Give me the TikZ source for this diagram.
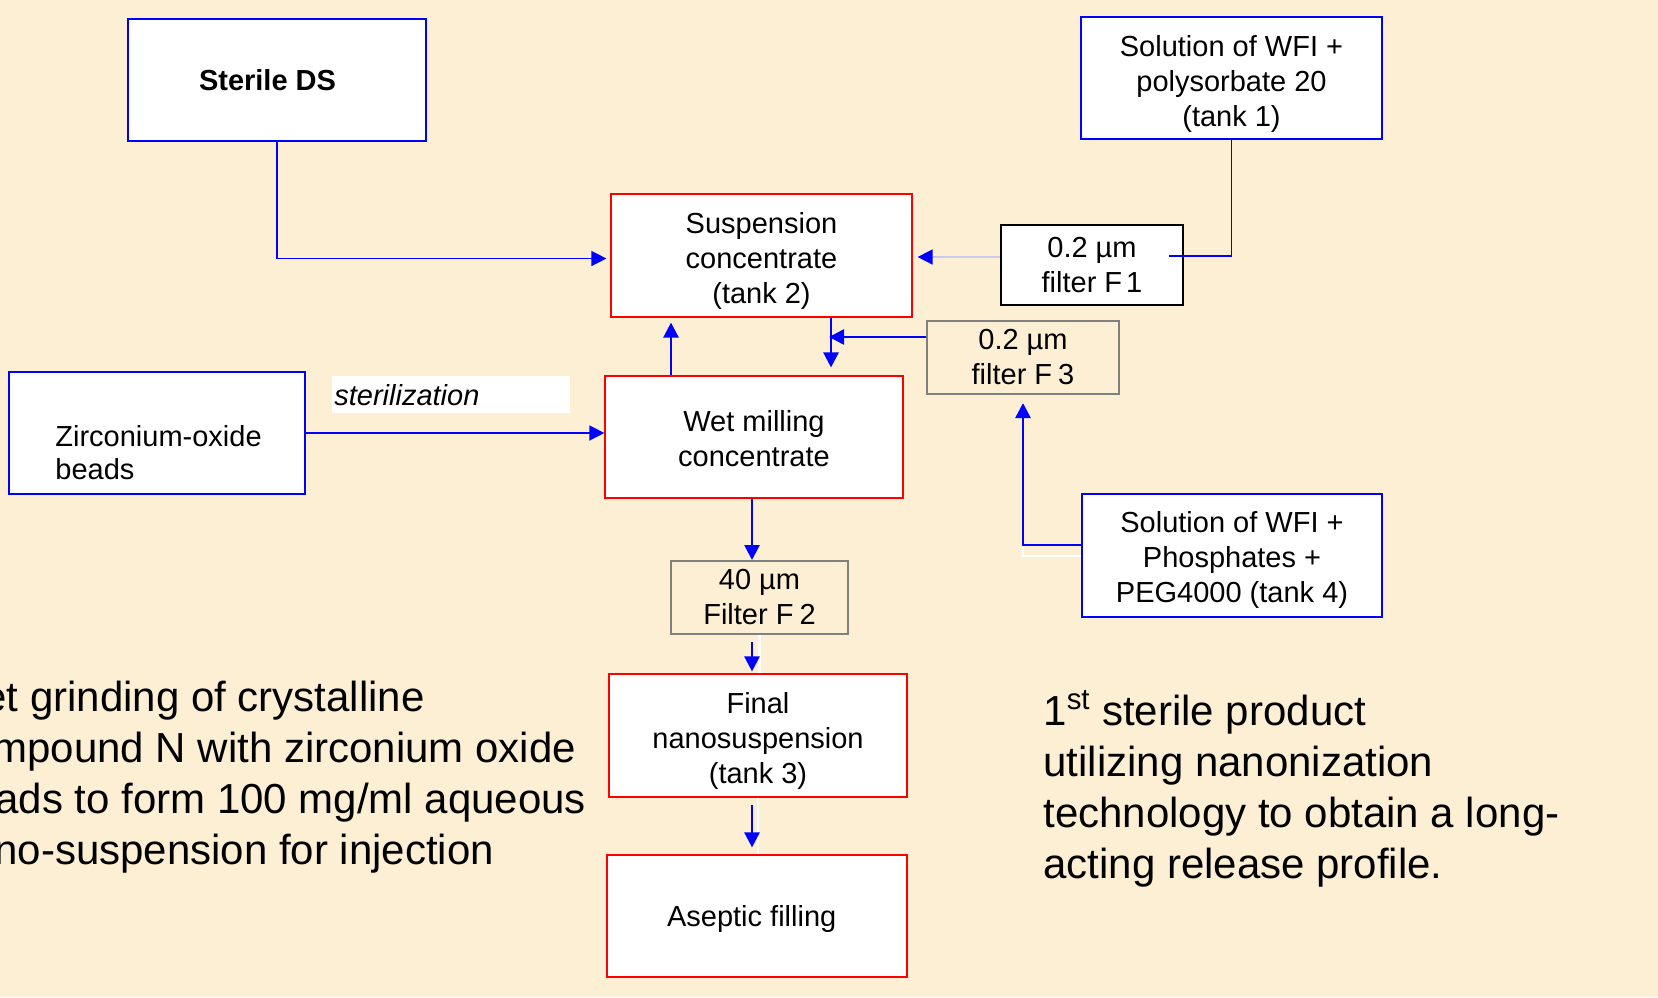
\documentclass[tikz,border=0pt]{standalone}
\usepackage{fontspec}
\setmainfont{Liberation Sans}
\usetikzlibrary{arrows.meta}
\definecolor{parch}{RGB}{252,239,212}
\definecolor{lightln}{RGB}{200,200,240}
\definecolor{fgray}{RGB}{128,128,128}
\newcommand{\dn}{\rule{0pt}{16pt}}
\begin{document}
\begin{tikzpicture}[x=0.5pt,y=-0.5pt,
  box/.style={draw, fill=white, line width=0.6pt, inner sep=0pt, align=center,
    font=\fontsize{14.5pt}{17.5pt}\selectfont},
  bluebox/.style={box, draw=blue},
  redbox/.style={box, draw=red},
  blackbox/.style={box, draw=black},
  graybox/.style={box, draw=fgray, fill=none, line width=1pt},
  lbl/.style={inner sep=0pt, font=\fontsize{14.5pt}{17.5pt}\selectfont},
  bigtxt/.style={inner sep=0pt, anchor=base west, font=\fontsize{21pt}{25.5pt}\selectfont},
  main/.style={draw=blue, line width=1.3pt, -{Triangle[length=7.5pt,width=7.5pt]}},
  thinarrow/.style={draw=blue, line width=0.7pt, -{Triangle[length=7.5pt,width=7.5pt]}},
  thinline/.style={draw=blue, line width=0.7pt},
  ghost/.style={draw=white, line width=1.3pt},
]
\useasboundingbox (0,0) rectangle (1658,997);
\fill[parch] (0,0) rectangle (1658,997);

% boxes
\node[bluebox, minimum width=149pt, minimum height=61pt,
  font=\bfseries\fontsize{14.5pt}{17.5pt}\selectfont] (sds) at (277,80) {Sterile DS\hspace*{9.5pt}};
\node[bluebox, minimum width=150.5pt, minimum height=61pt] (tank1) at (1231.5,78)
  {\dn Solution of WFI +\\polysorbate 20\\(tank 1)};
\node[redbox, minimum width=150.5pt, minimum height=61.5pt] (tank2) at (761.5,255.5)
  {\dn Suspension\\concentrate\\(tank 2)};
\node[blackbox, minimum width=91pt, minimum height=40pt] (f1) at (1092,265)
  {0.2 µm\\filter F\kern2pt{}1};
\node[graybox, minimum width=96pt, minimum height=36.5pt] (f3) at (1023,357.5)
  {0.2 µm\\filter F\kern3pt{}3};
\node[redbox, minimum width=149pt, minimum height=61pt] (wet) at (754,437)
  {\rule{0pt}{12.5pt}Wet milling\\concentrate};
\node[bluebox, minimum width=148pt, minimum height=61pt] (zir) at (157,433) {};
\node[lbl, anchor=base west] (zir1) at (55,446) {Zirconium-oxide};
\node[lbl, anchor=base west] (zir2) at (55,479) {beads};
\node[fill=white, minimum width=119pt, minimum height=18.5pt, inner sep=0pt] (sterbox) at (451,394.5) {};
\node[lbl, anchor=base west] (sterlbl) at (334,405) {\itshape sterilization};
\node[bluebox, minimum width=150pt, minimum height=61.5pt] (tank4) at (1232,555.5)
  {\rule{0pt}{15pt}Solution of WFI +\\Phosphates +\\PEG4000 (tank 4)};
\node[graybox, minimum width=88.5pt, minimum height=36.5pt] (f2) at (759.5,597.5)
  {40 µm\\Filter F\kern3pt{}2};
\node[redbox, minimum width=149pt, minimum height=61.5pt] (final) at (758,735.5)
  {\dn Final\\nanosuspension\\(tank 3)};
\node[redbox, minimum width=150pt, minimum height=61pt] (asep) at (757,916)
  {\rule{0pt}{13.6pt}Aseptic filling\hspace*{5.3pt}};

% connectors
\draw[thinarrow, shorten >=2pt] (sds.south) |- ([yshift=-1.5pt]tank2.west);
\coordinate (f1in) at (1169,256);
\draw[thinline] (tank1.south) |- (f1in);
\draw[draw=lightln, line width=0.8pt,
  -{Triangle[length=7.5pt,width=7.5pt,fill=blue,color=blue]}, shorten >=2.5pt]
  ([yshift=4pt]f1.west) -- ([yshift=4pt]f1.west -| tank2.east);
\draw[main, shorten >=4pt] ([xshift=34.75pt]tank2.south) -- ([xshift=34.75pt]tank2.south |- wet.north);
\draw[main, shorten >=2.5pt] ([xshift=-41.5pt]wet.north) -- ([xshift=-41.5pt]wet.north |- tank2.south);
\coordinate (join) at (831,337);
\draw[main, shorten >=-1pt] ([yshift=10.25pt]f3.west) -- (join);
\draw[ghost, shorten >=4pt] ([yshift=-0.25pt]tank4.west) -| (f3.south);
\draw[main, shorten >=4pt] ([yshift=5.25pt]tank4.west) -| (f3.south);
\draw[thinarrow] (zir.east) -- (zir.east -| wet.west);
\draw[main] ([xshift=-1pt]wet.south) -- ([xshift=-1pt]wet.south |- f2.north);
\draw[ghost] (f2.south) -- (f2.south |- final.north);
\draw[main, shorten <=3.5pt, shorten >=1pt] ([xshift=-3.75pt]f2.south) -- ([xshift=-3.75pt]f2.south |- final.north);
\draw[ghost] (final.south) -- (final.south |- asep.north);
\draw[main, shorten <=3.5pt, shorten >=3.5pt] ([xshift=-3pt]final.south) -- ([xshift=-3pt]final.south |- asep.north);

% left text
\node[bigtxt] (l1) at (-17,711) {et grinding of crystalline};
\node[bigtxt] (l2) at (-8,762) {mpound N with zirconium oxide};
\node[bigtxt] (l3) at (-5,813) {ads to form 100 mg/ml aqueous};
\node[bigtxt] (l4) at (-6,864) {no-suspension for injection};

% right text
\node[bigtxt] (r1) at (1043,725) {1\textsuperscript{st} sterile product};
\node[bigtxt] (r2) at (1043,776) {utilizing nanonization};
\node[bigtxt] (r3) at (1043,827) {technology to obtain a long-};
\node[bigtxt] (r4) at (1043,878) {acting release profile.};
\end{tikzpicture}
\end{document}
